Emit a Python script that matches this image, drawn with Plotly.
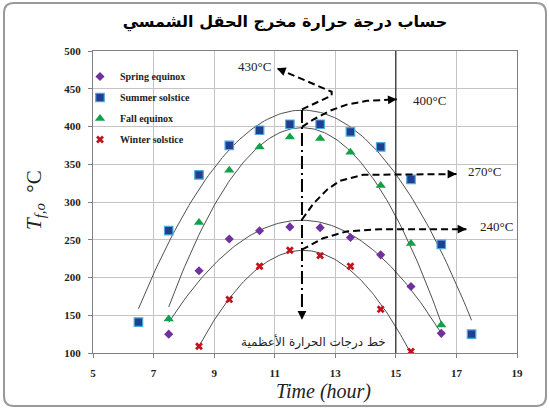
import numpy as np
import plotly.graph_objects as go

# Outlet temperature of the solar field, sampled every hour
hours_spring = [7.5, 8.5, 9.5, 10.5, 11.5, 12.5, 13.5, 14.5, 15.5, 16.5]
temp_spring = [125, 209, 251, 262, 267, 266, 253, 230, 188, 126]

hours_summer = [6.5, 7.5, 8.5, 9.5, 10.5, 11.5, 12.5, 13.5, 14.5, 15.5, 16.5, 17.5]
temp_summer = [141, 262, 336, 375, 395, 403, 403, 393, 373, 330, 244, 125]

hours_fall = [7.5, 8.5, 9.5, 10.5, 11.5, 12.5, 13.5, 14.5, 15.5, 16.5]
temp_fall = [145, 273, 342, 373, 386, 384, 366, 322, 245, 137]

hours_winter = [8.5, 9.5, 10.5, 11.5, 12.5, 13.5, 14.5, 15.5]
temp_winter = [109, 171, 215, 236, 229, 215, 158, 102]

x_ticks = [5, 7, 9, 11, 13, 15, 17, 19]
y_ticks = [100, 150, 200, 250, 300, 350, 400, 450, 500]

peak_hour = 11.9
peak_labels = ["430°C", "400°C", "270°C", "240°C"]

W, H = 549, 410
M = dict(l=93, r=32, t=51, b=57)
PW, PH = W - M["l"] - M["r"], H - M["t"] - M["b"]


def px_x(p):
    return (p - M["l"]) / PW


def px_y(p):
    return (H - M["b"] - p) / PH


serif = "Liberation Serif"
arabic = "DejaVu Sans"

series = [
    ("Spring equinox", hours_spring, temp_spring,
     dict(symbol="diamond", size=7, color="#7030A0", line=dict(width=0))),
    ("Summer solstice", hours_summer, temp_summer,
     dict(symbol="square", size=8.5, color="#1F3F8F", line=dict(width=1.2, color="#4FA8E0"))),
    ("Fall equinox", hours_fall, temp_fall,
     dict(symbol="triangle-up", size=9, color="#12A04A", line=dict(width=0))),
    ("Winter solstice", hours_winter, temp_winter,
     dict(symbol="x", size=7, color="#C0141E", line=dict(width=0))),
]

fig = go.Figure()

fits = []
for name, hx, ty, mk in series:
    coef = np.polyfit(hx, ty, 2)
    fits.append(coef)
    xs = np.linspace(min(hx), max(hx), 120)
    fig.add_trace(go.Scatter(x=xs, y=np.polyval(coef, xs), mode="lines",
                             line=dict(color="#505050", width=1),
                             showlegend=False, hoverinfo="skip"))

for i, (name, hx, ty, mk) in enumerate(series):
    fig.add_trace(go.Scatter(x=hx, y=ty, mode="markers", name=name,
                             marker=mk, legendgroup=f"g{i}"))

peaks = [float(np.polyval(c, peak_hour)) for c in fits]
p_spring, p_summer, p_fall, p_winter = peaks

dash_style = dict(color="black", width=2, dash="7px,4px")

# bent leader lines from each curve's peak towards its label
leaders = [
    ([peak_hour, 12.88, 12.88, 11.07], [p_summer + 1, 441, 446, 477]),
    ([peak_hour, 12.27, 12.83, 13.38, 14.04, 15.03], [p_fall + 1, 409, 421, 429, 434, 436]),
    ([peak_hour, 12.28, 12.72, 13.15, 13.92, 17.0], [p_spring + 1, 298, 316, 328, 336, 337]),
    ([peak_hour, 12.6, 13.37, 14.47, 17.33], [p_winter + 1, 252, 261, 264, 264]),
]
for lx, ly in leaders:
    fig.add_trace(go.Scatter(x=lx, y=ly, mode="lines", line=dash_style,
                             showlegend=False, hoverinfo="skip"))

# line of maximum temperatures
fig.add_trace(go.Scatter(x=[peak_hour, peak_hour], y=[p_summer, 146], mode="lines",
                         line=dict(color="black", width=2, dash="13px,4px,2px,4px"),
                         showlegend=False, hoverinfo="skip"))

annotations = []
arrow_tips = [
    (11.07, 477, 7.4, 2.9),
    (15.03, 436, -8, 0.5),
    (17.0, 337, -8, 0),
    (17.33, 264, -8, 0),
    (peak_hour, 144, 0, -8),
]
for tx, ty, ax, ay in arrow_tips:
    annotations.append(dict(x=tx, y=ty, ax=ax, ay=ay, text="", showarrow=True,
                            arrowhead=2, arrowsize=1.1, arrowwidth=1.6,
                            arrowcolor="black", xref="x", yref="y"))

label_pos = [
    (10.95, 479, "right"),
    (15.5, 434, "left"),
    (17.33, 340, "left"),
    (17.7, 268, "left"),
]
for (lx, ly, anc), txt in zip(label_pos, peak_labels):
    annotations.append(dict(x=lx, y=ly, text=txt, showarrow=False, xanchor=anc,
                            yanchor="middle",
                            font=dict(family=serif, size=13, color="#222")))

annotations.append(dict(x=12.28, y=115, text="خط درجات الحرارة الأعظمية", showarrow=False,
                        xanchor="center", yanchor="middle",
                        font=dict(family=arabic, size=12, color="#222")))

# axis titles
annotations.append(dict(x=px_x(35), y=px_y(200), xref="paper", yref="paper",
                        xanchor="center", yanchor="middle",
                        text="<i>T<sub>f,o</sub></i>  °C", textangle=-90, showarrow=False,
                        font=dict(family=serif, size=21, color="#222")))
annotations.append(dict(x=px_x(323), y=px_y(391), xref="paper", yref="paper",
                        xanchor="center", yanchor="middle",
                        text="<i>Time (hour)</i>", showarrow=False,
                        font=dict(family=serif, size=20, color="#222")))

# rounded outer frame
x0, x1 = px_x(4), px_x(546)
y0, y1 = px_y(406), px_y(3)
rx, ry = 10 / PW, 10 / PH
frame = (f"M {x0 + rx},{y1} L {x1 - rx},{y1} Q {x1},{y1} {x1},{y1 - ry} "
         f"L {x1},{y0 + ry} Q {x1},{y0} {x1 - rx},{y0} L {x0 + rx},{y0} "
         f"Q {x0},{y0} {x0},{y0 + ry} L {x0},{y1 - ry} Q {x0},{y1} {x0 + rx},{y1} Z")

shapes = [
    dict(type="path", path=frame, xref="paper", yref="paper",
         line=dict(color="#9a9a9a", width=2), layer="below"),
    dict(type="line", x0=15, x1=15, y0=100, y1=500, xref="x", yref="y",
         line=dict(color="black", width=1)),
]

axis_common = dict(showgrid=True, gridcolor="#c4c4c4", gridwidth=1, zeroline=False,
                   showline=True, linecolor="#808080", linewidth=1, mirror=True,
                   ticks="outside", ticklen=4, tickcolor="#808080", automargin=False,
                   tickfont=dict(family=serif, size=11, color="#222", weight="bold"))

fig.update_layout(
    width=W, height=H, margin=M,
    paper_bgcolor="white", plot_bgcolor="white",
    title=dict(text="حساب درجة حرارة مخرج الحقل الشمسي", x=285 / W, xref="container",
               y=1 - 21 / H, yref="container", xanchor="center", yanchor="middle",
               font=dict(family=arabic, size=16, color="black", weight="bold")),
    xaxis=dict(range=[5, 19], tickvals=x_ticks, ticklabelstandoff=6, **axis_common),
    yaxis=dict(range=[100, 500], tickvals=y_ticks, ticklabelstandoff=5, **axis_common),
    legend=dict(x=px_x(80), y=px_y(62), xanchor="left", yanchor="top",
                bgcolor="rgba(0,0,0,0)", tracegroupgap=2,
                font=dict(family=serif, size=10, color="#222", weight="bold")),
    annotations=annotations,
    shapes=shapes,
    showlegend=True,
)

fig.write_html("out.html")
